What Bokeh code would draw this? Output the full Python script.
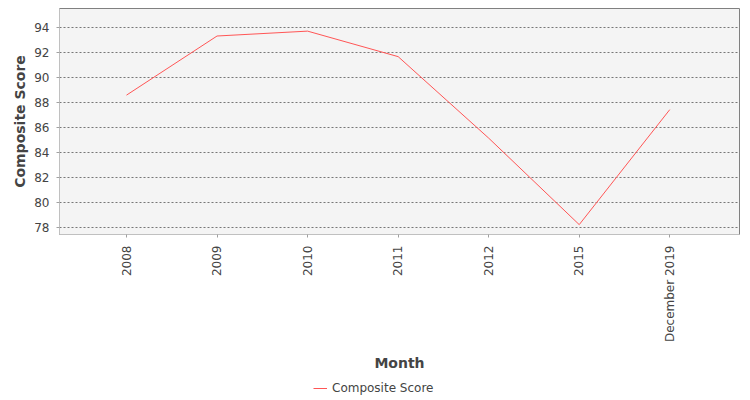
import math

from bokeh.plotting import figure
from bokeh.layouts import column
from bokeh.models import Range1d, FixedTicker, Legend, LegendItem
from bokeh.embed import file_html
from bokeh.resources import INLINE

# data
months = ["2008", "2009", "2010", "2011", "2012", "2015", "December 2019"]
scores = [88.6, 93.33, 93.72, 91.68, 85.16, 78.24, 87.44]
y_ticks = [78, 80, 82, 84, 86, 88, 90, 92, 94]

FONT = "DejaVu Sans"
LINE_COLOR = "#ff5555"

x = list(range(len(months)))

p = figure(width=742, height=374, output_backend="svg", toolbar_location=None,
           x_range=Range1d(-0.74, len(months) - 1 + 0.77),
           y_range=Range1d(77.45, 95.53),
           min_border_left=59, min_border_right=3, min_border_top=8,
           min_border_bottom=136,
           background_fill_color="#f4f4f4", border_fill_color="white")

p.outline_line_color = "#808080"
p.outline_line_width = 1

p.line(x, scores, color=LINE_COLOR, line_width=1)

# axes
p.xaxis.ticker = FixedTicker(ticks=x)
p.xaxis.major_label_overrides = {i: m for i, m in enumerate(months)}
p.xaxis.major_label_orientation = math.pi / 2
p.yaxis.ticker = FixedTicker(ticks=y_ticks)

for ax in (p.xaxis, p.yaxis):
    ax.axis_line_color = "#c0c0c0"
    ax.major_tick_line_color = "#a0a0a0"
    ax.major_tick_in = 0
    ax.major_tick_out = 3
    ax.minor_tick_line_color = None
    ax.major_label_text_font = FONT
    ax.major_label_text_font_size = "12px"
    ax.major_label_text_color = "#444444"
    ax.axis_label_text_font = FONT
    ax.axis_label_text_font_size = "14px"
    ax.axis_label_text_font_style = "bold"
    ax.axis_label_text_color = "#444444"

p.xaxis.axis_label = "Month"
p.yaxis.axis_label = "Composite Score"
p.xaxis.major_label_standoff = 8
p.xaxis.axis_label_standoff = 10
p.yaxis.major_label_standoff = 7
p.yaxis.axis_label_standoff = 3

# grid
p.xgrid.grid_line_color = None
p.ygrid.grid_line_color = "#777777"
p.ygrid.grid_line_dash = "2 2"
p.ygrid.grid_line_width = 1

# legend strip under the chart (a legend in a side panel collapses the frame);
# the series is drawn again here but falls outside this strip's 0..1 y range
leg = figure(width=742, height=24, output_backend="svg", toolbar_location=None,
             x_range=Range1d(0, 1), y_range=Range1d(0, 1),
             x_axis_location=None, y_axis_location=None,
             min_border=0, outline_line_color=None)
leg.grid.grid_line_color = None
swatch = leg.line(x, scores, color=LINE_COLOR, line_width=1)
legend = Legend(items=[LegendItem(label="Composite Score", renderers=[swatch])],
                location=(254, 3), orientation="horizontal",
                border_line_color=None, background_fill_alpha=0,
                label_text_font=FONT, label_text_font_size="12px",
                label_text_color="#444444", glyph_width=14, glyph_height=14,
                label_height=14, label_standoff=5, padding=0, margin=0)
leg.add_layout(legend)

layout = column(p, leg, spacing=0)

open("out.html", "w").write(file_html(layout, INLINE))
